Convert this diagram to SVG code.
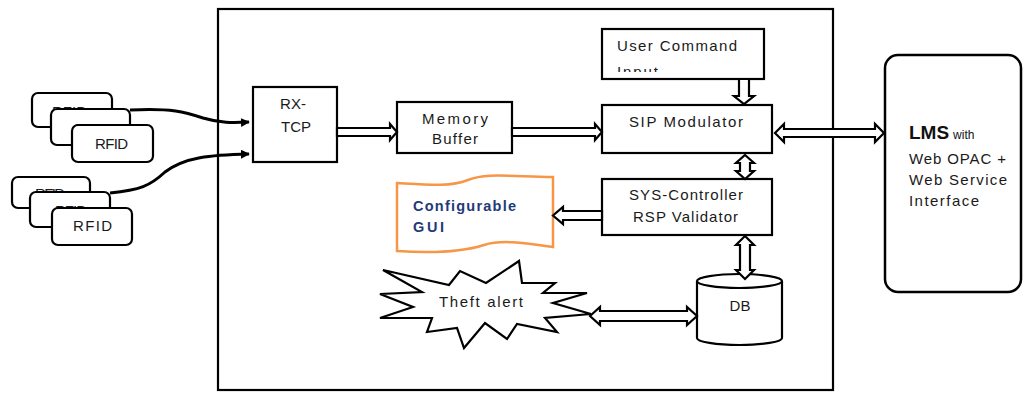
<svg xmlns="http://www.w3.org/2000/svg" width="1026" height="393" viewBox="0 0 1026 393">
  <style>
    .box { fill: #ffffff; stroke: #000000; stroke-width: 2.2; }
    .tag { fill: #ffffff; stroke: #000000; stroke-width: 2.2; }
    .txt { font-family: "Liberation Sans", Arial, sans-serif; font-size: 15px; fill: #1a1a1a; }
    .gui { font-family: "Liberation Sans", Arial, sans-serif; font-size: 14.5px; font-weight: bold; fill: #1f3a78; }
    .harrow { fill: #ffffff; stroke: #000000; stroke-width: 2.2; stroke-linejoin: miter; }
    .wire { fill: none; stroke: #000000; stroke-width: 3; }
  </style>
  <defs>
    <marker id="head" viewBox="0 0 10 10" refX="9" refY="5" markerWidth="3" markerHeight="3" orient="auto" markerUnits="strokeWidth">
      <path d="M0,0 L10,5 L0,10 Z" fill="#000000"/>
    </marker>
    <clipPath id="userClip">
      <rect x="602" y="30" width="162" height="42"/>
    </clipPath>
  </defs>

  <rect x="0" y="0" width="1026" height="393" fill="#ffffff"/>

  <!-- system frame -->
  <g id="frame">
    <rect x="218" y="9" width="615" height="381" fill="none" stroke="#000000" stroke-width="2.2"/>
  </g>

  <!-- RFID readers, first stack -->
  <g id="rfid-stack-1">
    <rect class="tag" x="32" y="93" width="80" height="34" rx="6"/>
    <text class="txt" x="52" y="117" textLength="35" font-size="13">RFID</text>
    <rect class="tag" x="51" y="109" width="79" height="36" rx="6"/>
    <text class="txt" x="75" y="134" textLength="32" font-size="13">RFID</text>
    <rect class="tag" x="72" y="125" width="81" height="37" rx="6"/>
    <text class="txt" x="95" y="149" textLength="33" font-size="13">RFID</text>
  </g>

  <!-- RFID readers, second stack -->
  <g id="rfid-stack-2">
    <rect class="tag" x="12" y="177" width="78" height="31" rx="6"/>
    <text class="txt" x="35" y="199" textLength="30" font-size="13">RFID</text>
    <rect class="tag" x="30" y="192" width="80" height="35" rx="6"/>
    <text class="txt" x="55" y="216" textLength="32" font-size="13">RFID</text>
    <rect class="tag" x="52" y="208" width="80" height="37" rx="6"/>
    <text class="txt" x="73" y="231" textLength="39" font-size="13">RFID</text>
  </g>

  <g id="rx-tcp">
    <rect class="box" x="253" y="87" width="84" height="75"/>
    <text class="txt" x="293" y="109" text-anchor="middle">RX-</text>
    <text class="txt" x="296" y="132" text-anchor="middle">TCP</text>
  </g>

  <g id="memory-buffer">
    <rect class="box" x="397" y="102" width="115" height="51"/>
    <text class="txt" x="422" y="124" textLength="66">Memory</text>
    <text class="txt" x="432" y="144" textLength="46">Buffer</text>
  </g>

  <g id="user-command">
    <rect class="box" x="602" y="29" width="162" height="50"/>
    <text class="txt" x="617" y="51" textLength="120">User Command</text>
    <text class="txt" x="617" y="77" textLength="41" clip-path="url(#userClip)">Input</text>
  </g>

  <g id="sip-modulator">
    <rect class="box" x="602" y="105" width="170" height="48"/>
    <text class="txt" x="629" y="127" textLength="114">SIP Modulator</text>
  </g>

  <g id="sys-controller">
    <rect class="box" x="602" y="179" width="170" height="56"/>
    <text class="txt" x="629" y="200" textLength="114">SYS-Controller</text>
    <text class="txt" x="633" y="222" textLength="105">RSP Validator</text>
  </g>

  <g id="configurable-gui">
    <path d="M397,183 C430,185 450,187 468,180 C485,173 505,176 553,177 L553,247 C520,242 500,240 484,245 C465,251 440,254 397,251 Z" fill="#ffffff" stroke="#f79646" stroke-width="2.5"/>
    <text class="gui" x="413" y="211" textLength="103">Configurable</text>
    <text class="gui" x="413" y="232" textLength="31">GUI</text>
  </g>

  <g id="theft-alert">
    <polygon points="383,270 449,285 460,271 486,283 519,261 522,283 555,283 543,293 587,293 553,303 591,314 545,318 557,332 517,324 507,339 485,323 464,348 457,328 427,332 432,318 380,318 413,307 380,294 422,292" fill="#ffffff" stroke="#000000" stroke-width="2.2" stroke-linejoin="miter"/>
    <text class="txt" x="439" y="307" textLength="84" font-size="14">Theft alert</text>
  </g>

  <g id="db">
    <path d="M697,281 L697,338 A42.5,7 0 0 0 782,338 L782,281" fill="#ffffff" stroke="#000000" stroke-width="2.2"/>
    <ellipse cx="739.5" cy="281" rx="42.5" ry="7" fill="#ffffff" stroke="#000000" stroke-width="2.2"/>
    <text class="txt" x="740" y="311" text-anchor="middle" font-size="16">DB</text>
  </g>

  <g id="lms">
    <rect x="885" y="55" width="136" height="237" rx="13" fill="#ffffff" stroke="#000000" stroke-width="2.5"/>
    <text x="909" y="139" font-family="'Liberation Sans', Arial, sans-serif" fill="#111111"><tspan font-size="19" font-weight="bold">LMS</tspan><tspan font-size="12" dx="4">with</tspan></text>
    <text class="txt" x="909" y="164" textLength="97" font-size="14">Web OPAC +</text>
    <text class="txt" x="909" y="185" textLength="98" font-size="14">Web Service</text>
    <text class="txt" x="909" y="206" textLength="70" font-size="14">Interface</text>
  </g>

  <!-- connectors -->
  <g id="connectors">
    <path class="wire" d="M130,110 C172,108 185,112 203,118 C220,123 232,123 249,122" marker-end="url(#head)"/>
    <path class="wire" d="M110,193 C140,190 150,186 165,172 C185,157 210,155 249,154" marker-end="url(#head)"/>

    <!-- RX-TCP to Memory Buffer -->
    <polygon class="harrow" points="337,128 390,128 390,124 397,132 390,140 390,136 337,136"/>
    <!-- Memory Buffer to SIP Modulator -->
    <polygon class="harrow" points="512,128 595,128 595,124 602,132 595,140 595,136 512,136"/>
    <!-- User Command to SIP Modulator -->
    <polygon class="harrow" points="739,79 749,79 749,96 754,96 744,104 734,96 739,96"/>
    <!-- SIP Modulator to LMS -->
    <polygon class="harrow" points="775,133 784,124 784,129 875,129 875,124 884,133 875,142 875,137 784,137 784,142"/>
    <!-- SIP Modulator and SYS-Controller -->
    <polygon class="harrow" points="745,155 754,163 750,163 750,171 754,171 745,179 736,171 740,171 740,163 736,163"/>
    <!-- SYS-Controller and DB -->
    <polygon class="harrow" points="745,236 754,245 750,245 750,270 754,270 745,279 736,270 740,270 740,245 736,245"/>
    <!-- SYS-Controller to Configurable GUI -->
    <polygon class="harrow" points="602,211 563,211 563,207 553,215.5 563,224 563,220 602,220"/>
    <!-- Theft alert and DB -->
    <polygon class="harrow" points="590,316 600,307 600,311 687,311 687,307 697,316 687,325 687,321 600,321 600,325"/>
  </g>
</svg>
